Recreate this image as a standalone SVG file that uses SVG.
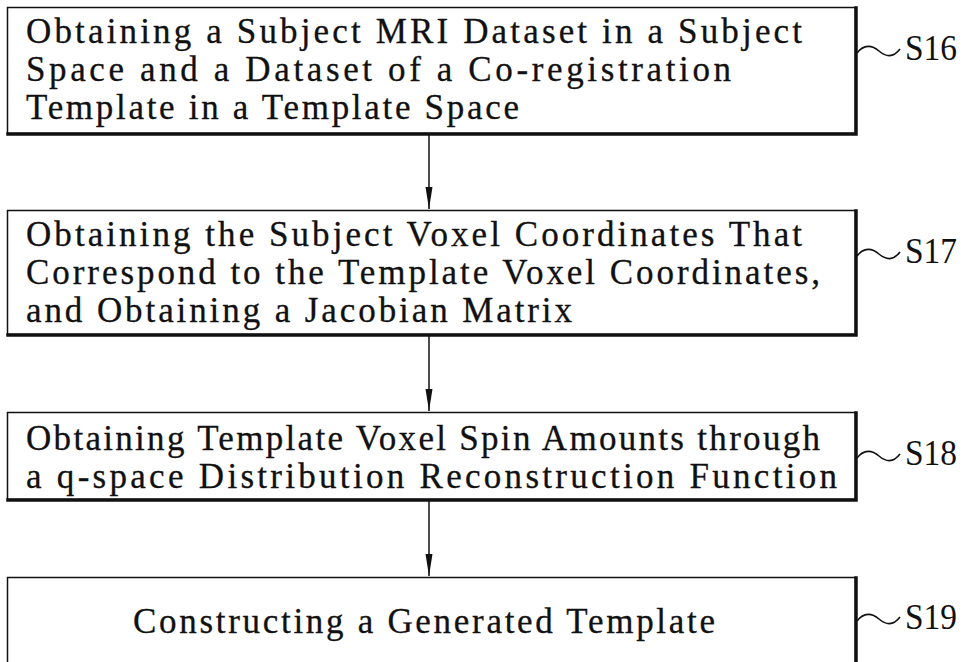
<svg xmlns="http://www.w3.org/2000/svg" width="962" height="662" viewBox="0 0 962 662">
  <style>
    .box { fill: #ffffff; stroke: #111; stroke-width: 1.5; }
    .shadow { fill: none; stroke: #111; stroke-width: 3.5; stroke-linecap: square; }
    .txt { font-family: "Liberation Serif", "Times New Roman", serif; font-size: 35px; fill: #111; stroke: #111; stroke-width: 0.3; }
    .lbl { font-family: "Liberation Serif", "Times New Roman", serif; font-size: 36px; fill: #111; }
    .tilde { fill: none; stroke: #111; stroke-width: 1.6; }
    .conn { stroke: #111; stroke-width: 1.5; fill: none; }
  </style>
  <defs>
    <marker id="arrow" markerUnits="userSpaceOnUse" markerWidth="24" markerHeight="8" refX="22" refY="4" orient="auto" viewBox="0 0 24 8">
      <path d="M0,0.5 L22,4 L0,7.5 Z" fill="#111"/>
    </marker>
  </defs>
  <rect width="962" height="662" fill="#ffffff"/>

  <g id="connectors">
    <line class="conn" x1="429" y1="135" x2="429" y2="209" marker-end="url(#arrow)"/>
    <line class="conn" x1="429" y1="336" x2="429" y2="411" marker-end="url(#arrow)"/>
    <line class="conn" x1="429" y1="501" x2="429" y2="576" marker-end="url(#arrow)"/>
  </g>

  <g id="S16">
    <rect class="box" x="7.5" y="7.5" width="848" height="126"/>
    <polyline class="shadow" points="856,8 856,134 8,134"/>
    <text class="txt" x="26" y="43" textLength="776" lengthAdjust="spacing">Obtaining a Subject MRI Dataset in a Subject</text>
    <text class="txt" x="26" y="81" textLength="705" lengthAdjust="spacing">Space and a Dataset of a Co-registration</text>
    <text class="txt" x="26" y="119" textLength="493" lengthAdjust="spacing">Template in a Template Space</text>
    <path class="tilde" d="M857,53 C864,44 872,45 879,51 C886,57 893,58 900,49"/>
    <text class="lbl" x="905" y="60" textLength="52" lengthAdjust="spacingAndGlyphs">S16</text>
  </g>

  <g id="S17">
    <rect class="box" x="7.5" y="210.5" width="848" height="124"/>
    <polyline class="shadow" points="856,211 856,335 8,335"/>
    <text class="txt" x="26" y="246" textLength="776" lengthAdjust="spacing">Obtaining the Subject Voxel Coordinates That</text>
    <text class="txt" x="26" y="284" textLength="794" lengthAdjust="spacing">Correspond to the Template Voxel Coordinates,</text>
    <text class="txt" x="26" y="322" textLength="546" lengthAdjust="spacing">and Obtaining a Jacobian Matrix</text>
    <path class="tilde" d="M857,256 C864,247 872,248 879,254 C886,260 893,261 900,252"/>
    <text class="lbl" x="905" y="263" textLength="52" lengthAdjust="spacingAndGlyphs">S17</text>
  </g>

  <g id="S18">
    <rect class="box" x="7.5" y="412.5" width="848" height="87"/>
    <polyline class="shadow" points="856,413 856,500 8,500"/>
    <text class="txt" x="26" y="450" textLength="794" lengthAdjust="spacing">Obtaining Template Voxel Spin Amounts through</text>
    <text class="txt" x="26" y="488" textLength="811" lengthAdjust="spacing">a q-space Distribution Reconstruction Function</text>
    <path class="tilde" d="M857,458 C864,449 872,450 879,456 C886,462 893,463 900,454"/>
    <text class="lbl" x="905" y="465" textLength="52" lengthAdjust="spacingAndGlyphs">S18</text>
  </g>

  <g id="S19">
    <rect class="box" x="7.5" y="577.5" width="848" height="100"/>
    <polyline class="shadow" points="856,578 856,680"/>
    <text class="txt" x="133" y="633" textLength="582" lengthAdjust="spacing">Constructing a Generated Template</text>
    <path class="tilde" d="M857,621 C864,612 872,613 879,619 C886,625 893,626 900,617"/>
    <text class="lbl" x="905" y="629" textLength="52" lengthAdjust="spacingAndGlyphs">S19</text>
  </g>
</svg>
